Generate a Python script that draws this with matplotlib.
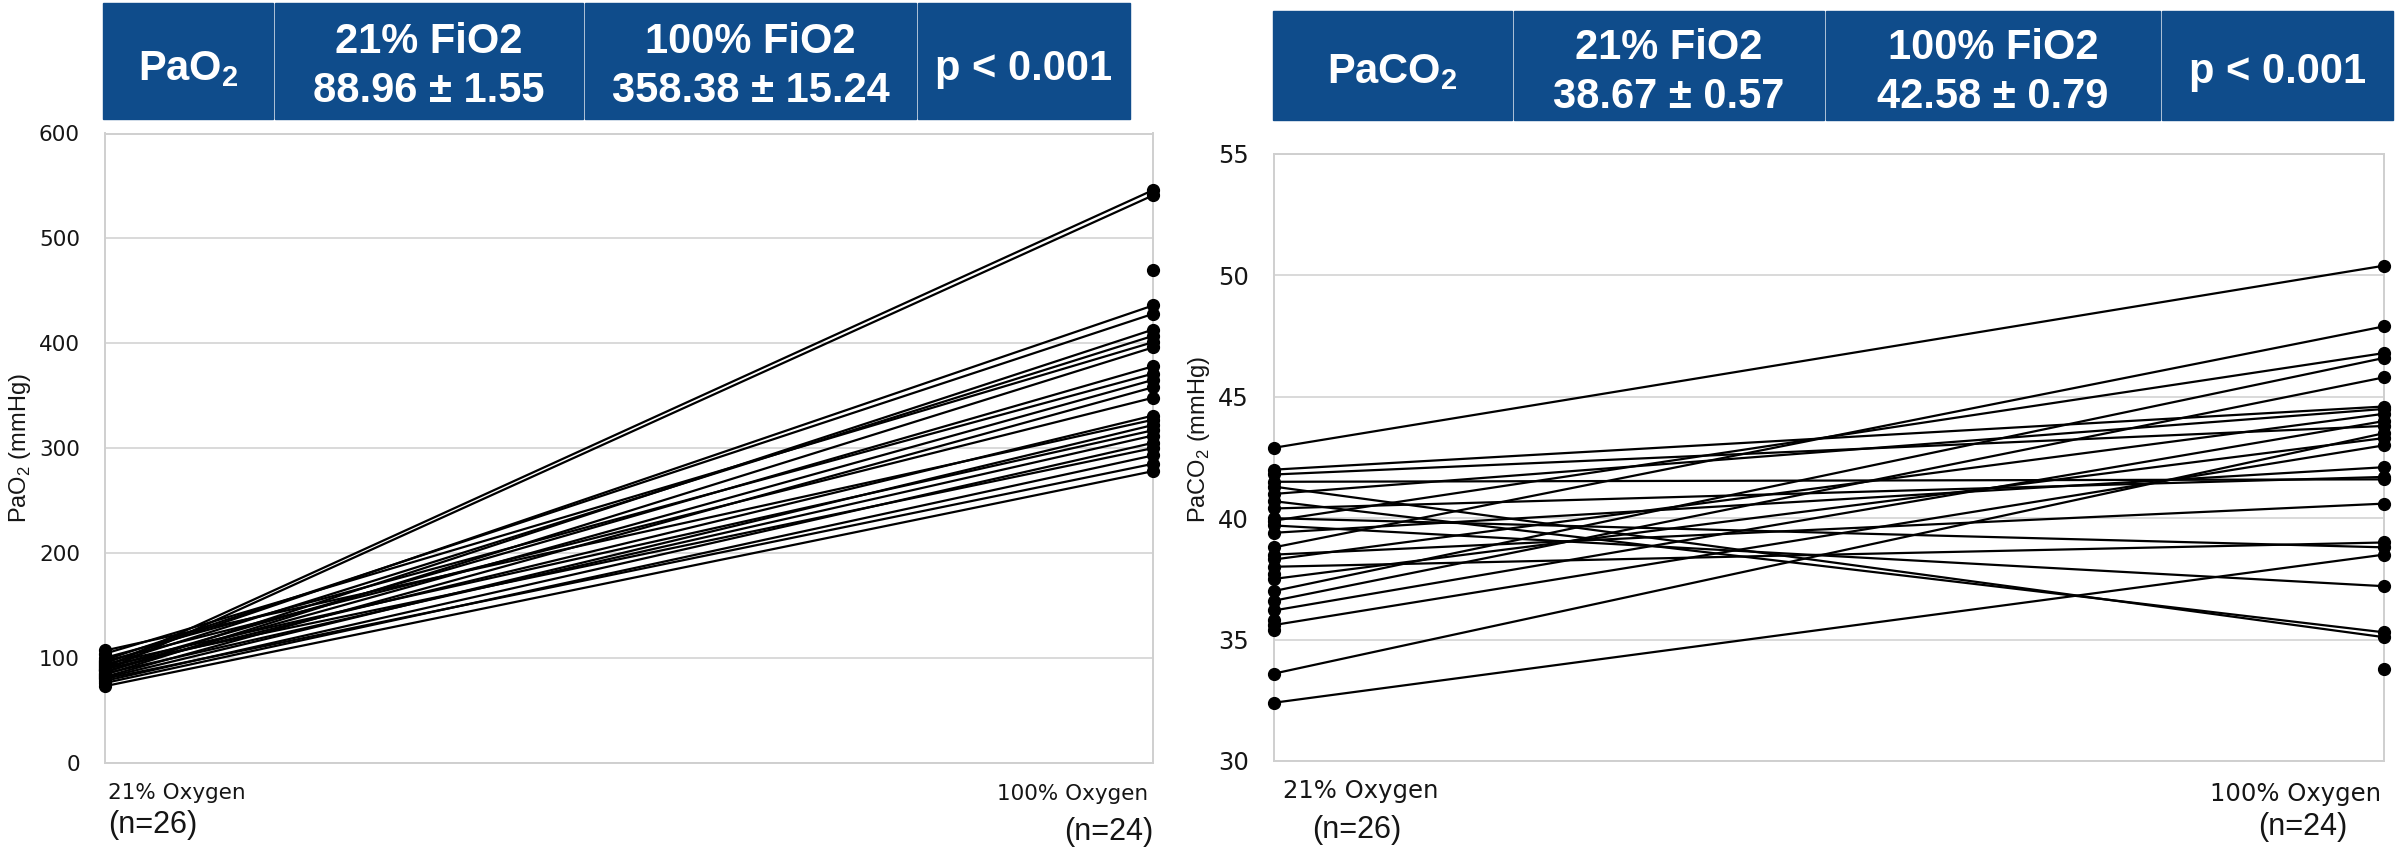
import numpy as np
import matplotlib.pyplot as plt
from matplotlib.patches import Rectangle

plt.rcParams['font.family'] = ['Liberation Sans', 'DejaVu Sans']
plt.rcParams['mathtext.fontset'] = 'custom'
plt.rcParams['mathtext.rm'] = 'Liberation Sans'
plt.rcParams['mathtext.bf'] = 'Liberation Sans:bold'

# paired subjects, nan = no measurement at that FiO2
pao2_21 = [91, 88, 95, 98, 86, 93, 104, 84, 90, 100, 87, 82, 97, 89, 107, 81,
           94, 85, 78, 92, 76, 80, 73, 96, 88, 83, np.nan]
pao2_100 = [546, 541, 436, 428, 413, 407, 401, 396, 378, 371, 365, 358, 348, 331,
            327, 322, 317, 312, 305, 300, 293, 285, 278, np.nan, np.nan, np.nan, 470]

paco2_21 = [42.9, 42.0, 41.8, 41.5, 41.3, 41.0, 40.7, 40.4, 40.0, 39.9, 39.7, 39.4,
            38.8, 38.5, 38.3, 38.0, 37.5, 37.0, 36.6, 36.2, 35.6, 33.6, 32.4,
            37.7, 35.8, 35.4, np.nan]
paco2_100 = [50.4, 44.6, 43.8, 41.6, 35.1, 44.5, 35.3, 41.7, 38.8, 46.8, 37.2, 42.1,
             47.9, 40.6, 44.3, 39.0, 43.3, 46.6, 45.8, 44.0, 43.0, 43.5, 38.5,
             np.nan, np.nan, np.nan, 33.8]

groups = ['21% Oxygen', '100% Oxygen']
counts = ['(n=26)', '(n=24)']

pao2_table = ['PaO$_{\\mathbf{2}}$', '21% FiO2\n88.96 ± 1.55', '100% FiO2\n358.38 ± 15.24', 'p < 0.001']
paco2_table = ['PaCO$_{\\mathbf{2}}$', '21% FiO2\n38.67 ± 0.57', '100% FiO2\n42.58 ± 0.79', 'p < 0.001']

W, H = 2407, 851
fig = plt.figure(figsize=(W / 100, H / 100), dpi=100)
blue = '#0f4c8b'
ink = '#151515'


def table(cells_x, y0, y1, texts, base1, base2, base_single):
    for (a, b), t in zip(cells_x, texts):
        fig.patches.append(Rectangle((a / W, 1 - y1 / H), (b - a) / W, (y1 - y0) / H,
                                     transform=fig.transFigure, color=blue))
        cx = (a + b) / 2 / W
        lines = t.split('\n')
        bases = [base1, base2] if len(lines) == 2 else [base_single]
        for line, yb in zip(lines, bases):
            fig.text(cx, 1 - yb / H, line, color='white', fontsize=30,
                     fontweight='bold', ha='center', va='baseline')


def panel(ax, v21, v100, ylim, step, ylabel, tick_fs, lab_fs, lab_pos, xl):
    for a, b in zip(v21, v100):
        ax.plot([0, 1], [a, b], color='black', lw=1.6, marker='o', ms=8.5,
                clip_on=False, zorder=3)
    ax.set_xlim(0, 1)
    ax.set_ylim(*ylim)
    ax.set_yticks(np.arange(ylim[0], ylim[1] + step / 2, step))
    ax.set_xticks([])
    ax.grid(axis='y', color='#d9d9d9', lw=1.4)
    ax.set_axisbelow(True)
    for s in ax.spines.values():
        s.set_color('#cfcfcf')
        s.set_linewidth(1.4)
    ax.tick_params(axis='y', length=0, pad=18, labelsize=tick_fs, labelcolor=ink,
                   labelfontfamily='DejaVu Sans')
    ax.set_ylabel(ylabel, fontsize=lab_fs, color=ink)
    ax.yaxis.set_label_coords(*lab_pos)
    for (x, y, t, ha, size, fam) in xl:
        ax.text(x, y, t, transform=ax.transAxes, ha=ha, va='top', fontsize=size,
                color=ink, family=fam)


dv = ['DejaVu Sans']
lib = ['Liberation Sans']

ax1 = fig.add_axes([105 / W, 1 - 762.7 / H, 1048 / W, 629.2 / H])
panel(ax1, pao2_21, pao2_100, (0, 600), 100, 'PaO$_\\mathrm{2}$ (mmHg)', 15.5, 17, (-0.069, 0.5),
      [(0.003, -0.032, groups[0], 'left', 15.5, dv), (0.003, -0.075, counts[0], 'left', 22, lib),
       (0.995, -0.034, groups[1], 'right', 15.5, dv), (1.0, -0.087, counts[1], 'right', 22, lib)])

ax2 = fig.add_axes([1274 / W, 1 - 761 / H, 1110 / W, 607 / H])
panel(ax2, paco2_21, paco2_100, (30, 55), 5, 'PaCO$_\\mathrm{2}$ (mmHg)', 17.5, 17, (-0.056, 0.529),
      [(0.078, -0.030, groups[0], 'center', 17.5, dv), (0.075, -0.089, counts[0], 'center', 22, lib),
       (0.920, -0.035, groups[1], 'center', 17.5, dv), (0.927, -0.084, counts[1], 'center', 22, lib)])

table([(103, 273), (275, 583), (585, 916), (918, 1130)], 3, 119, pao2_table, 53, 102, 80)
table([(1273, 1512), (1514, 1824), (1826, 2160), (2162, 2393)], 11, 120, paco2_table, 59, 108, 83)

fig.savefig('out.png', dpi=100, facecolor='white')
